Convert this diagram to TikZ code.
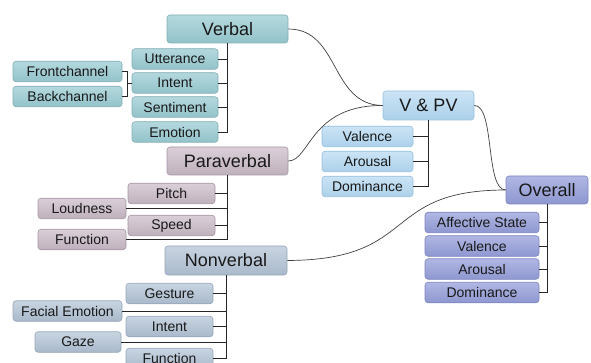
\documentclass[tikz,border=0pt]{standalone}
\usepackage{fontspec}
\setmainfont{Liberation Sans}

\definecolor{verbtop}{HTML}{B4D9DE}
\definecolor{verbbot}{HTML}{92C2C9}
\definecolor{verbline}{HTML}{80AEB5}
\definecolor{paratop}{HTML}{DACFD8}
\definecolor{parabot}{HTML}{BEB0BC}
\definecolor{paraline}{HTML}{A596A3}
\definecolor{nonvtop}{HTML}{C8D4E1}
\definecolor{nonvbot}{HTML}{A9B9CB}
\definecolor{nonvline}{HTML}{95A6B9}
\definecolor{vpvtop}{HTML}{CBE4F5}
\definecolor{vpvbot}{HTML}{ACD0EA}
\definecolor{vpvline}{HTML}{98C0DE}
\definecolor{overtop}{HTML}{B0B7E3}
\definecolor{overbot}{HTML}{8E97D0}
\definecolor{overline}{HTML}{7D86BF}

\tikzset{
  head/.style={rounded corners=3pt, inner sep=0pt, minimum height=28pt,
    top color=#1top, bottom color=#1bot, draw=#1line, line width=0.6pt,
    text=black!90, font=\fontsize{18}{18}\selectfont},
  leaf/.style={rounded corners=3pt, inner sep=0pt, minimum height=20.5pt,
    top color=#1top, bottom color=#1bot, draw=#1line, line width=0.6pt,
    text=black!90, font=\fontsize{14}{14}\selectfont},
  branch/.style={draw=black!85, line width=0.8pt},
  link/.style={draw=black!75, line width=0.7pt},
}

\begin{document}
\begin{tikzpicture}[x=1pt,y=-1pt]
  \useasboundingbox (0,0) rectangle (591,363);
  \clip (0,0) rectangle (591,363);

  % verbal
  \node[head=verb, minimum width=121pt] (verbal) at (227.5,29) {Verbal};
  \node[leaf=verb, minimum width=86pt] (utter) at (175,59) {Utterance};
  \node[leaf=verb, minimum width=86pt] (vintent) at (175,83) {Intent};
  \node[leaf=verb, minimum width=86pt] (senti) at (175,107) {Sentiment};
  \node[leaf=verb, minimum width=86pt] (emo) at (175,132) {Emotion};
  \node[leaf=verb, minimum width=109pt] (front) at (67.5,71.5) {Frontchannel};
  \node[leaf=verb, minimum width=109pt] (back) at (67.5,96.5) {Backchannel};

  % paraverbal
  \node[head=para, minimum width=121pt] (para) at (227.5,161) {Paraverbal};
  \node[leaf=para, minimum width=87pt] (pitch) at (171.5,193.5) {Pitch};
  \node[leaf=para, minimum width=88pt] (loud) at (82,208.5) {Loudness};
  \node[leaf=para, minimum width=87pt] (speed) at (171.5,225.5) {Speed};
  \node[leaf=para, minimum width=88pt] (pfunc) at (82,239.5) {Function};

  % nonverbal
  \node[head=nonv, minimum width=122pt, minimum height=29pt] (nonv) at (226,260.5) {Nonverbal};
  \node[leaf=nonv, minimum width=87pt] (gest) at (169.5,293.5) {Gesture};
  \node[leaf=nonv, minimum width=109pt] (face) at (67.5,311) {Facial Emotion};
  \node[leaf=nonv, minimum width=87pt] (nintent) at (169.5,326.5) {Intent};
  \node[leaf=nonv, minimum width=86pt] (gaze) at (78,342) {Gaze};
  \node[leaf=nonv, minimum width=87pt] (nfunc) at (169.5,358.5) {Function};

  % v & pv
  \node[head=vpv, minimum width=91pt, minimum height=29pt] (vpv) at (428.5,105.5) {V \& PV};
  \node[leaf=vpv, minimum width=91pt] (vval) at (367.5,136.5) {Valence};
  \node[leaf=vpv, minimum width=91pt] (varo) at (367.5,161.5) {Arousal};
  \node[leaf=vpv, minimum width=91pt] (vdom) at (367.5,186.5) {Dominance};

  % overall
  \node[head=over, minimum width=82pt] (over) at (547,190) {Overall};
  \node[leaf=over, minimum width=114pt] (affect) at (482,222.5) {Affective State};
  \node[leaf=over, minimum width=114pt] (oval) at (482,246) {Valence};
  \node[leaf=over, minimum width=114pt] (oaro) at (482,269) {Arousal};
  \node[leaf=over, minimum width=114pt] (odom) at (482,292.5) {Dominance};

  % trees
  \draw[branch] (verbal.south) -- (verbal.south |- emo.east) -- (emo.east);
  \foreach \n in {utter,vintent,senti}
    \draw[branch] (\n.east) -- (\n.east -| verbal.south);
  \draw[branch] (front.east) -- ++(5,0) coordinate (fk) |- (back.east);
  \draw[branch] (fk |- vintent.west) -- (vintent.west);

  \draw[branch] (para.south) -- (para.south |- pfunc.east) -- (pfunc.east);
  \foreach \n in {pitch,loud,speed}
    \draw[branch] (\n.east) -- (\n.east -| para.south);

  \draw[branch] (nonv.south) -- (nonv.south |- nfunc.east) -- (nfunc.east);
  \foreach \n in {gest,face,nintent,gaze}
    \draw[branch] (\n.east) -- (\n.east -| nonv.south);

  \draw[branch] (vpv.south) -- (vpv.south |- vdom.east) -- (vdom.east);
  \foreach \n in {vval,varo}
    \draw[branch] (\n.east) -- (\n.east -| vpv.south);

  \draw[branch] (over.south) -- (over.south |- odom.east) -- (odom.east);
  \foreach \n in {affect,oval,oaro}
    \draw[branch] (\n.east) -- (\n.east -| over.south);

  % links
  \draw[link] (verbal.east) .. controls (340,29) and (330,105) .. (vpv.west);
  \draw[link] (para.east) .. controls (310,161) and (310,105) .. (vpv.west);
  \draw[link] (vpv.east) .. controls (495,105) and (485,190) .. (over.west);
  \draw[link] (nonv.east) .. controls (420,260) and (380,190) .. (over.west);

\end{tikzpicture}
\end{document}
